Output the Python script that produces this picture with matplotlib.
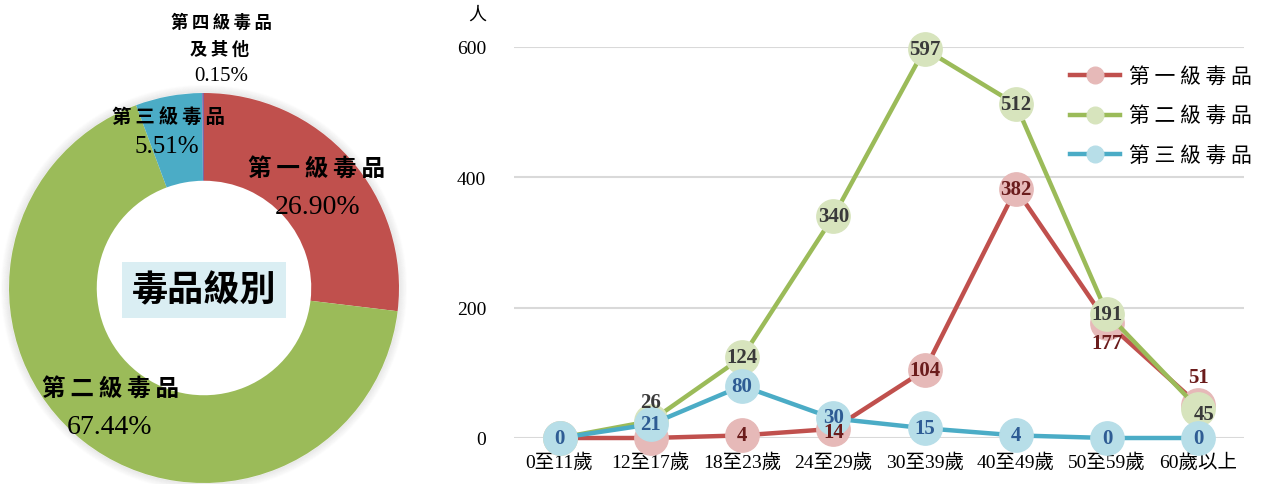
import matplotlib
matplotlib.use("Agg")
import matplotlib.pyplot as plt
from matplotlib.patches import Circle, Rectangle
import numpy as np

# ---------------- data ----------------
pie_labels = ["第一級毒品", "第二級毒品", "第三級毒品", "第四級毒品", "及其他"]
pie_values = [26.90, 67.44, 5.51, 0.15]

age_groups = ["0至11歲", "12至17歲", "18至23歲", "24至29歲", "30至39歲", "40至49歲", "50至59歲", "60歲以上"]
series_names = ["第一級毒品", "第二級毒品", "第三級毒品"]
level1 = [0, 0, 4, 14, 104, 382, 177, 51]
level2 = [0, 26, 124, 340, 597, 512, 191, 45]
level3 = [0, 21, 80, 30, 15, 4, 0, 0]
y_ticks = [0, 200, 400, 600]

# ---------------- styles ----------------
W, H = 1261, 485
fig = plt.figure(figsize=(W / 100, H / 100), dpi=100)
fig.patch.set_facecolor("white")

CJK = ["Noto Sans CJK TC", "DejaVu Sans"]
SERIF_CJK = ["Liberation Serif", "Noto Sans CJK TC"]
TS = "\u2009"

pie_colors = ["#C0504D", "#9BBB59", "#4BACC6", "#8064A2"]

# ---------------- donut ----------------
cx, cy, R = 204, 289, 195
axp = fig.add_axes([(cx - R) / W, (H - cy - R) / H, 2 * R / W, 2 * R / H])
# soft shadow ring outside the donut
for i, a in enumerate(np.linspace(0.10, 0.01, 8)):
    axp.add_patch(Circle((0, 0), 1.0 + 0.005 * (i + 0.5), fill=False, edgecolor="#777777",
                         alpha=a, lw=1.2, zorder=0))
axp.pie(pie_values, colors=pie_colors, startangle=90, counterclock=False,
        radius=1.0, wedgeprops=dict(width=0.45, linewidth=0), normalize=True)
axp.set_xlim(-1.05, 1.05)
axp.set_ylim(-1.05, 1.05)
axp.set_position([(cx - 1.05 * R) / W, (H - cy - 1.05 * R) / H, 2.1 * R / W, 2.1 * R / H])
axp.set_aspect("auto")
axp.axis("off")

def px(x, y):
    return ((x - cx) / R, (cy - y) / R)

lab_font = dict(family=CJK, weight="bold", color="black", ha="center", va="center")
pct_font = dict(family=["Liberation Serif"], color="black", ha="center", va="center")

def spaced(s):
    return TS.join(s)

# 第一級
axp.text(*px(317, 170), spaced(pie_labels[0]), fontsize=17, **lab_font)
axp.text(*px(318, 207), f"{pie_values[0]:.2f}%", fontsize=20, **pct_font)
# 第二級
axp.text(*px(111, 390), spaced(pie_labels[1]), fontsize=17, **lab_font)
axp.text(*px(110, 427), f"{pie_values[1]:.2f}%", fontsize=20, **pct_font)
# 第三級
axp.text(*px(168, 118), spaced(pie_labels[2]), fontsize=14, **lab_font)
axp.text(*px(167, 147), f"{pie_values[2]:.2f}%", fontsize=18, **pct_font)
# 第四級
axp.text(*px(221, 23), spaced(pie_labels[3]), fontsize=12.5, **lab_font)
axp.text(*px(220, 50), spaced(pie_labels[4]), fontsize=12.5, **lab_font)
axp.text(*px(221, 76), f"{pie_values[3]:.2f}%", fontsize=15, **pct_font)

# center title box
axp.add_patch(Rectangle(px(122, 319), (286 - 122) / R, (319 - 263) / R,
                        facecolor="#DAEEF3", edgecolor="none", zorder=5))
axp.text(*px(204, 291), "毒品級別", fontsize=26, family=CJK, weight="bold",
         ha="center", va="center", zorder=6)

# ---------------- line chart ----------------
left, right, top, bottom = 514, 1244, 48, 439
ax = fig.add_axes([left / W, (H - bottom) / H, (right - left) / W, (bottom - top) / H])
x = np.arange(len(age_groups))

line_cols = ["#C0504D", "#9BBB59", "#4BACC6"]
mk_cols = ["#E6B9B8", "#D7E4BD", "#B7DEE8"]
txt_cols = ["#6B1C1C", "#3A3A3A", "#2E5C94"]
data = [level1, level2, level3]

handles = []
for i, (vals, lc, mc) in enumerate(zip(data, line_cols, mk_cols)):
    h, = ax.plot(x, vals, color=lc, lw=3.2, marker="o", ms=24, mfc=mc, mec=mc,
                 zorder=3 + i, clip_on=False, label=series_names[i])
    handles.append(h)

# label offsets (points); None = hidden
offs = [
    [None, None, (0, 0), (0, -2), (0, 0), (0, 0), (0, -15), (0, 20)],
    [None, (0, 14), (0, 0), (0, 0), (0, 0), (0, 0), (0, 0), (4, -4)],
    [(0, 0), (0, 0), (0, 0), (0, 1), (0, 0), (0, 0), (0, 0), (0, 0)],
]
for i, vals in enumerate(data):
    for j, v in enumerate(vals):
        o = offs[i][j]
        if o is None:
            continue
        ax.annotate(str(v), (x[j], v), xytext=o, textcoords="offset points",
                    ha="center", va="center", fontsize=15, fontweight="bold",
                    family="Liberation Serif", color=txt_cols[i], zorder=10,
                    annotation_clip=False)

ax.set_xlim(-0.5, len(age_groups) - 0.5)
ax.set_ylim(0, 600)
ax.set_yticks(y_ticks)
ax.set_yticklabels([str(t) for t in y_ticks], family="Liberation Serif", fontsize=14)
ax.set_xticks(x)
ax.set_xticklabels(age_groups, family=SERIF_CJK, fontsize=14)
ax.tick_params(axis="both", length=0)
ax.tick_params(axis="x", pad=10)
ax.tick_params(axis="y", pad=20)
ax.grid(axis="y", color="#D9D9D9", lw=1.5, zorder=0)
ax.set_axisbelow(True)
for s in ax.spines.values():
    s.set_visible(False)

fig.text(477 / W, 1 - 15 / H, "人", family=CJK, fontsize=13, ha="center", va="center")

leg = ax.legend(handles=handles, labels=[" ".join(n) for n in series_names],
                loc="upper left", bbox_to_anchor=(1062 / W, 1 - 58 / H),
                bbox_transform=fig.transFigure, frameon=False,
                prop=dict(family=CJK, size=15), handlelength=2.4, handletextpad=0.4,
                labelspacing=0.85, borderaxespad=0)
for lh in leg.legend_handles:
    lh.set_markersize(12)

fig.savefig("out.png", dpi=100, facecolor="white")
